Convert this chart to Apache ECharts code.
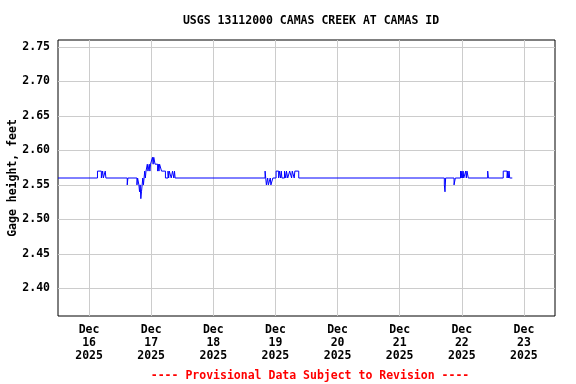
<!DOCTYPE html>
<html><head><meta charset="utf-8">
<script src="https://cdn.jsdelivr.net/npm/echarts@6/dist/echarts.min.js"></script>
<style>html,body{margin:0;padding:0;background:#fff}#c{width:576px;height:384px}</style>
</head><body><div id="c"></div>
<script>
const titleText = 'USGS 13112000 CAMAS CREEK AT CAMAS ID';
const footerText = '---- Provisional Data Subject to Revision ----';
const yAxisName = 'Gage height, feet';
const yTicks = [2.40, 2.45, 2.50, 2.55, 2.60, 2.65, 2.70, 2.75];
const xTickDays = [16, 17, 18, 19, 20, 21, 22, 23];
const xTickLabels = ['Dec\n16\n2025','Dec\n17\n2025','Dec\n18\n2025','Dec\n19\n2025','Dec\n20\n2025','Dec\n21\n2025','Dec\n22\n2025','Dec\n23\n2025'];
// change points of the 15-minute gage record (value holds until next time)
const times = [
 '15 12:00','16 03:15','16 04:45','16 05:15','16 05:30','16 06:15','16 06:30',
 '16 14:45','16 15:00','16 18:30','16 18:45','16 19:15','16 19:30','16 19:45','16 20:00','16 20:15','16 20:30','16 20:45','16 21:00','16 21:15','16 21:30','16 21:45','16 22:00','16 22:30','16 22:45','16 23:15','16 23:30','16 23:45',
 '17 00:30','17 00:45','17 01:00','17 01:30','17 02:30','17 02:45','17 03:00','17 03:15','17 04:00','17 05:30','17 06:30','17 06:45','17 07:00','17 07:45','17 08:15','17 08:45','17 09:00','17 09:15',
 '18 20:00','18 20:30','18 21:00','18 21:15','18 22:00','18 22:15','18 23:00',
 '19 00:15','19 01:15','19 01:30','19 02:00','19 02:15','19 02:30','19 03:30','19 04:00','19 04:15','19 04:45','19 05:30','19 06:15','19 06:30','19 07:15','19 07:30','19 09:00',
 '21 17:15','21 17:30','21 17:45','21 21:00','21 21:30','21 23:30','21 23:45','22 00:00','22 00:15','22 00:30','22 00:45','22 01:30','22 01:45','22 02:00','22 02:30','22 03:00',
 '22 10:00','22 10:15','22 16:00','22 17:30','22 17:45','22 18:00','22 18:15','22 18:30','22 19:30'
];
const gage = [
 2.56,2.57,2.56,2.57,2.56,2.57,2.56,
 2.55,2.56,2.55,2.56,2.55,2.54,2.55,2.53,2.54,2.55,2.56,2.55,2.56,2.57,2.56,2.57,2.58,2.57,2.58,2.57,2.58,
 2.59,2.58,2.59,2.58,2.57,2.58,2.57,2.58,2.57,2.56,2.57,2.56,2.57,2.56,2.57,2.56,2.57,2.56,
 2.57,2.55,2.56,2.55,2.56,2.55,2.56,
 2.57,2.56,2.57,2.56,2.57,2.56,2.57,2.56,2.57,2.56,2.57,2.56,2.57,2.56,2.57,2.56,
 2.55,2.54,2.56,2.55,2.56,2.57,2.56,2.57,2.56,2.57,2.56,2.57,2.56,2.57,2.56,2.56,
 2.57,2.56,2.57,2.56,2.57,2.56,2.57,2.56,2.56
];
function toDate(s){ const d=+s.slice(0,2), h=+s.slice(3,5), m=+s.slice(6,8); return new Date(2025,11,d,h,m).getTime(); }
const data = times.map((t,i)=>[toDate(t), gage[i]]);
const xTicks = xTickDays.map(d=>new Date(2025,11,d).getTime());
const font = '"DejaVu Sans Mono", monospace';
const chart = echarts.init(document.getElementById('c'), null, {renderer:'canvas'});
chart.setOption({
 backgroundColor:'#fff', animation:false,
 title:[
  {text:titleText, left:306, top:10, textAlign:'center', textStyle:{fontFamily:font, fontSize:11.5, fontWeight:'bold', color:'#000'}},
  {text:footerText, left:305, top:365, textAlign:'center', textStyle:{fontFamily:font, fontSize:11.5, fontWeight:'bold', color:'#ff0000'}}
 ],
 grid:{left:58, right:21, top:40, bottom:68, outerBoundsMode:'none', containLabel:false, show:true, borderColor:'#000', borderWidth:1, backgroundColor:'#fff'},
 xAxis:{type:'value', min:new Date(2025,11,15,12).getTime(), max:new Date(2025,11,23,12).getTime(),
  axisLine:{show:false}, axisTick:{show:false, customValues:xTicks},
  splitLine:{show:true, lineStyle:{color:'#cccccc', width:1}},
  axisLabel:{customValues:xTicks, margin:8, lineHeight:13, fontFamily:font, fontSize:11.5, fontWeight:'bold', color:'#000',
   formatter:function(v){ const i = xTicks.indexOf(v); return i>=0 ? xTickLabels[i] : ''; }}},
 yAxis:{type:'value', min:2.36, max:2.76, name:yAxisName, nameLocation:'middle', nameGap:39, nameRotate:90, nameMoveOverlap:false,
  nameTextStyle:{fontFamily:font, fontSize:11.5, fontWeight:'bold', color:'#000'},
  axisLine:{show:false}, axisTick:{show:false, customValues:yTicks},
  splitLine:{show:true, lineStyle:{color:'#cccccc', width:1}},
  axisLabel:{customValues:yTicks, margin:8, fontFamily:font, fontSize:11.5, fontWeight:'bold', color:'#000',
   formatter:function(v){ return v.toFixed(2); }}},
 series:[{type:'line', data:data, step:'end', showSymbol:false, symbol:'none', lineStyle:{color:'#0000ff', width:1}, clip:true}]
});
</script></body></html>
